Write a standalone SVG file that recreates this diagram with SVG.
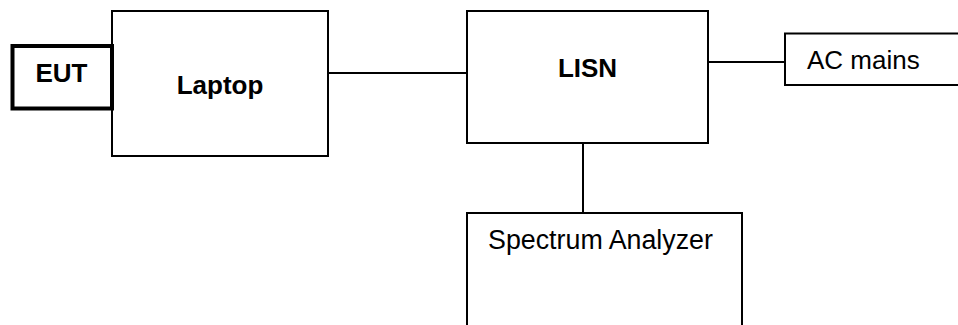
<svg xmlns="http://www.w3.org/2000/svg" width="958" height="325" viewBox="0 0 958 325">
<style>
.box{fill:#fff;stroke:#000;stroke-width:2}
.thick{fill:#fff;stroke:#000;stroke-width:4}
.b{font-family:"Liberation Sans",Arial,sans-serif;font-size:26px;font-weight:bold;fill:#000}
.r{font-family:"Liberation Sans",Arial,sans-serif;font-size:26px;fill:#000}
.c{stroke:#000;stroke-width:2;fill:none}
</style>
<rect width="958" height="325" fill="#fff"/>
<g id="connectors">
<line class="c" x1="328" y1="73" x2="467" y2="73"/>
<line class="c" x1="708" y1="62" x2="785" y2="62"/>
<line class="c" x1="583" y1="143" x2="583" y2="213"/>
</g>
<g id="laptop">
<rect class="box" x="112" y="11" width="216" height="145"/>
<text class="b" x="220" y="94" text-anchor="middle">Laptop</text>
</g>
<g id="eut">
<rect class="thick" x="12.5" y="46" width="99.5" height="62.5"/>
<text class="b" x="61.5" y="81.5" text-anchor="middle">EUT</text>
</g>
<g id="lisn">
<rect class="box" x="467" y="11" width="241" height="132"/>
<text class="b" x="587.5" y="77" text-anchor="middle">LISN</text>
</g>
<g id="acmains">
<rect class="box" x="785" y="33.5" width="200" height="51.5"/>
<text class="r" x="807" y="69">AC mains</text>
</g>
<g id="analyzer">
<rect class="box" x="467" y="213" width="275" height="140"/>
<text class="r" x="600.5" y="249" text-anchor="middle" style="font-size:26.8px">Spectrum Analyzer</text>
</g>
</svg>
